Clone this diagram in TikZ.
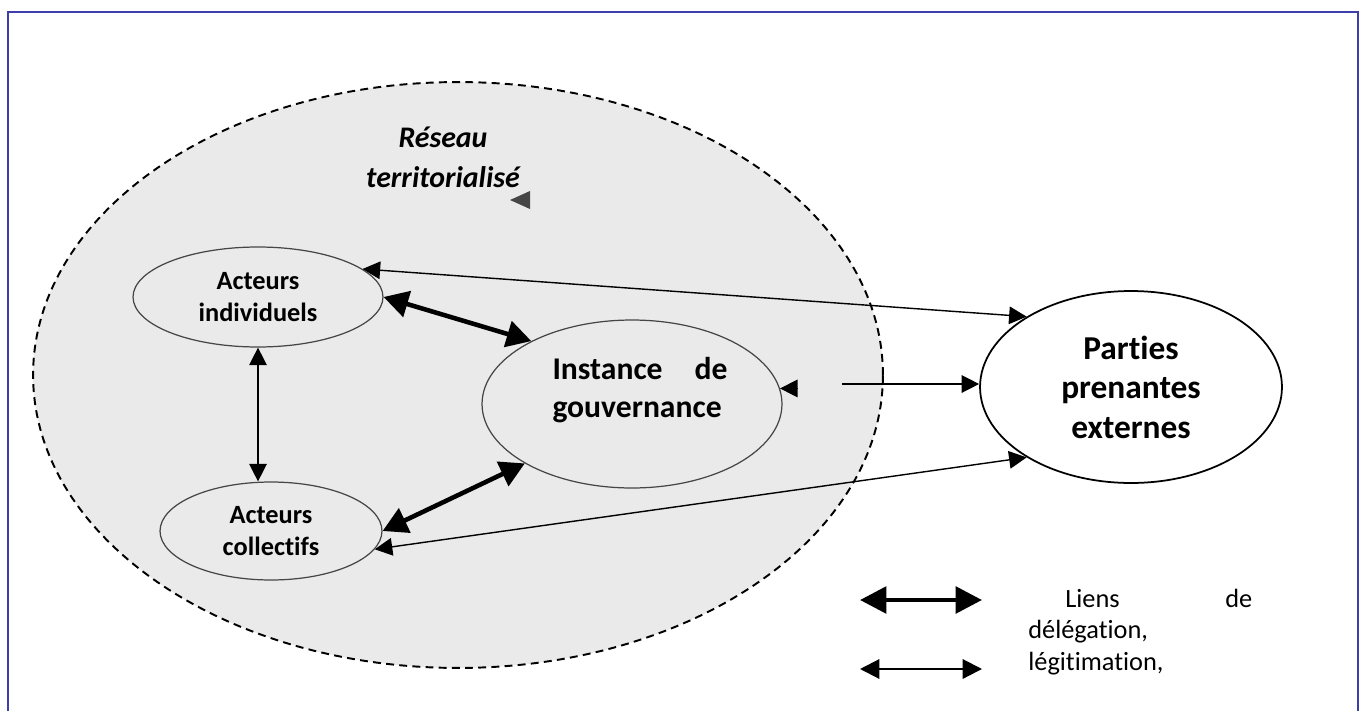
\documentclass[tikz,border=0pt]{standalone}
\usepackage{fontspec}
\setmainfont{Carlito}[Ligatures=NoCommon]
\usetikzlibrary{shapes.geometric,arrows.meta,calc}
\definecolor{cadre}{RGB}{62,62,170}
\definecolor{fond}{RGB}{234,234,234}
\definecolor{trait}{RGB}{70,70,70}
\tikzset{
  acteur/.style={ellipse,draw=trait,line width=0.7pt,fill=fond,inner sep=0pt,align=center,
    font=\bfseries\fontsize{15}{18}\selectfont},
  fin/.style={line width=0.8pt,{Triangle[length=10pt,width=10pt]}-{Triangle[length=10pt,width=10pt]}},
  epais/.style={line width=2.6pt,{Triangle[length=14pt,width=15pt]}-{Triangle[length=14pt,width=15pt]}},
}
\begin{document}
\begin{tikzpicture}[x=0.02cm,y=-0.02cm]
    \useasboundingbox (0,0) rectangle (1362,710);
    \draw[cadre,line width=1.4pt] (8,712)--(8,12)--(1358,12)--(1358,712);
    \node[ellipse,draw,dashed,dash pattern=on 4.5pt off 3pt,line width=1.1pt,fill=fond,
      minimum width=17cm,minimum height=11.72cm] (reseau) at (458,375) {};
    \node[font=\bfseries\itshape\fontsize{17}{22.7}\selectfont,align=center] (titre) at (443,157) {Réseau\\territorialisé};
    \fill[trait] (510,200)--(530,191)--(530,209)--cycle;
    \node[acteur,minimum width=5cm,minimum height=2cm] (ind) at (258,297) {Acteurs\\individuels};
    \node[acteur,minimum width=4.44cm,minimum height=1.96cm] (col) at (271,531) {Acteurs\\collectifs};
    \node[ellipse,draw=trait,line width=0.7pt,fill=fond,minimum width=6cm,minimum height=3.36cm,
      label={[font=\bfseries\fontsize{18}{21.5}\selectfont,text width=3.5cm,align=justify,xshift=0.16cm,yshift=0.28cm]center:Instance de gouvernance}] (inst) at (632,404) {};
    \node[ellipse,draw,line width=1pt,fill=white,minimum width=6.04cm,minimum height=3.84cm,
      font=\bfseries\fontsize{19}{22.5}\selectfont,align=center] (pp) at (1131,387) {Parties\\prenantes\\externes};
    \draw[fin] (ind.15) -- (pp.146);
    \draw[fin] (col.-10) -- (pp.214);
    \draw[fin] (ind.south) -- (ind.south |- col.north);
    \draw[epais] (ind.east) -- (inst.148);
    \draw[epais] (col.east) -- (inst.209);
    \coordinate (bout) at ($(inst.6)+(18,0)$);
    \draw[line width=0.8pt,-{Triangle[length=10pt,width=10pt]}] (bout) -- (inst.6);
    \coordinate (depart) at (842,384);
    \draw[line width=0.8pt,-{Triangle[length=10pt,width=10pt]}] (depart) -- (pp.west |- depart);
    \coordinate (l1a) at (860,600);
    \coordinate (l1b) at (982,600);
    \coordinate (l2a) at (860,669);
    \coordinate (l2b) at (982,669);
    \draw[line width=2.6pt,{Triangle[length=15pt,width=15pt]}-{Triangle[length=15pt,width=15pt]}] (l1a) -- (l1b);
    \draw[line width=1.2pt,{Triangle[length=11pt,width=11pt]}-{Triangle[length=11pt,width=11pt]}] (l2a) -- (l2b);
    \node[anchor=north west,inner sep=0pt,text width=4.48cm,align=left,
      font=\fontsize{15}{17.8}\selectfont] (legende) at (1028,589) {\hspace*{0.74cm}Liens\hfill de\\délégation,\\légitimation,};
\end{tikzpicture}
\end{document}
